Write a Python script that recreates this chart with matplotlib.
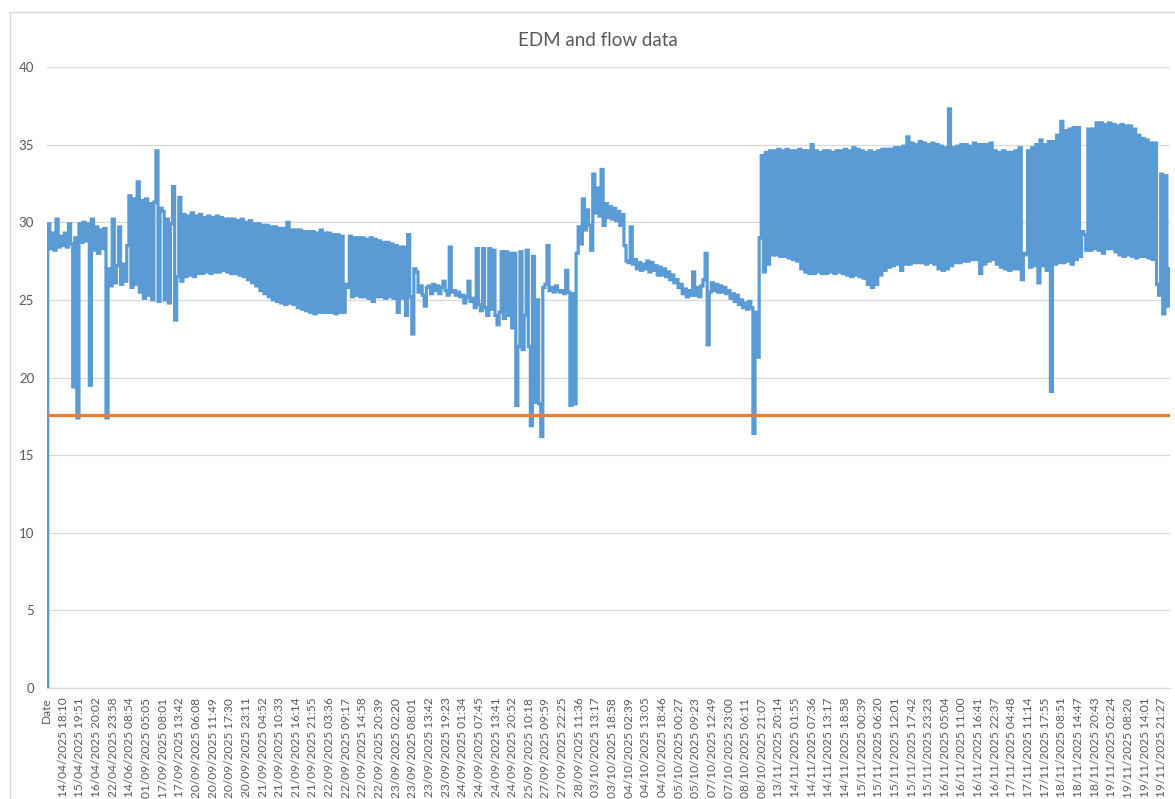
import matplotlib
matplotlib.use("Agg")
import matplotlib.pyplot as plt
from matplotlib.lines import Line2D
import numpy as np

title = "EDM and flow data"

tick_labels = [
    "Date", "14/04/2025 18:10", "15/04/2025 19:51", "16/04/2025 20:02", "22/04/2025 23:58",
    "14/06/2025 08:54", "01/09/2025 05:05", "17/09/2025 08:01", "17/09/2025 13:42",
    "20/09/2025 06:08", "20/09/2025 11:49", "20/09/2025 17:30", "20/09/2025 23:11",
    "21/09/2025 04:52", "21/09/2025 10:33", "21/09/2025 16:14", "21/09/2025 21:55",
    "22/09/2025 03:36", "22/09/2025 09:17", "22/09/2025 14:58", "22/09/2025 20:39",
    "23/09/2025 02:20", "23/09/2025 08:01", "23/09/2025 13:42", "23/09/2025 19:23",
    "24/09/2025 01:34", "24/09/2025 07:45", "24/09/2025 13:41", "24/09/2025 20:52",
    "25/09/2025 10:18", "27/09/2025 09:59", "27/09/2025 22:25", "28/09/2025 11:36",
    "03/10/2025 13:17", "03/10/2025 18:58", "04/10/2025 02:39", "04/10/2025 13:05",
    "04/10/2025 18:46", "05/10/2025 00:27", "05/10/2025 09:23", "07/10/2025 12:49",
    "07/10/2025 23:00", "08/10/2025 06:11", "08/10/2025 21:07", "13/11/2025 20:14",
    "14/11/2025 01:55", "14/11/2025 07:36", "14/11/2025 13:17", "14/11/2025 18:58",
    "15/11/2025 00:39", "15/11/2025 06:20", "15/11/2025 12:01", "15/11/2025 17:42",
    "15/11/2025 23:23", "16/11/2025 05:04", "16/11/2025 11:00", "16/11/2025 16:41",
    "16/11/2025 22:37", "17/11/2025 04:48", "17/11/2025 11:14", "17/11/2025 17:55",
    "18/11/2025 08:51", "18/11/2025 14:47", "18/11/2025 20:43", "19/11/2025 02:24",
    "19/11/2025 08:20", "19/11/2025 14:01", "19/11/2025 21:27",
]

# EDM readings (8 readings between consecutive labels)
edm_values = [
    0.0, 29.9, 28.3, 29.3, 28.2, 30.2, 28.4, 29.1,
    28.5, 29.3, 28.4, 29.9, 28.6, 19.4, 29.0, 17.4,
    29.9, 28.7, 30.0, 28.8, 29.9, 19.5, 30.2, 28.2,
    29.7, 28.0, 29.5, 28.3, 29.6, 17.4, 27.0, 25.9,
    30.2, 26.1, 27.2, 29.7, 26.0, 27.3, 26.2, 28.5,
    31.7, 25.8, 31.5, 26.0, 32.6, 25.5, 31.4, 25.1,
    31.5, 25.3, 31.2, 25.0, 31.3, 34.6, 24.9, 30.9,
    30.7, 25.0, 30.2, 24.8, 29.9, 32.3, 23.7, 26.5,
    31.6, 26.2, 30.5, 26.5, 30.4, 26.6, 30.6, 26.5,
    30.4, 26.7, 30.5, 26.7, 30.3, 26.8, 30.4, 26.7,
    30.3, 26.8, 30.4, 26.8, 30.3, 26.9, 30.2, 26.8,
    30.2, 26.7, 30.2, 26.7, 30.1, 26.6, 30.2, 26.5,
    30.0, 26.3, 30.1, 26.1, 29.9, 25.9, 29.9, 25.6,
    29.8, 25.4, 29.8, 25.2, 29.7, 25.0, 29.7, 24.9,
    29.6, 24.8, 29.6, 24.7, 30.0, 24.8, 29.5, 24.7,
    29.5, 24.5, 29.5, 24.4, 29.4, 24.3, 29.4, 24.2,
    29.4, 24.1, 29.3, 24.2, 29.5, 24.2, 29.3, 24.2,
    29.3, 24.2, 29.2, 24.1, 29.2, 24.2, 29.1, 24.2,
    26.0, 25.8, 29.1, 25.2, 29.0, 25.3, 29.0, 25.2,
    29.0, 25.2, 28.9, 25.1, 29.0, 24.9, 28.9, 25.2,
    28.8, 25.2, 28.7, 25.1, 28.7, 25.2, 28.6, 25.1,
    28.5, 24.2, 28.4, 25.1, 28.4, 24.0, 29.2, 25.2,
    22.8, 27.0, 26.8, 25.5, 25.9, 25.3, 24.6, 25.8,
    25.9, 25.4, 26.0, 25.6, 25.9, 25.4, 25.8, 26.2,
    25.6, 25.3, 28.4, 25.5, 25.6, 25.3, 25.5, 25.2,
    25.3, 24.8, 25.2, 26.2, 24.9, 25.1, 24.5, 28.3,
    24.7, 24.3, 28.3, 24.5, 24.0, 28.3, 24.4, 28.2,
    24.0, 23.4, 24.2, 28.1, 23.8, 28.1, 24.0, 28.0,
    23.2, 28.0, 18.2, 22.0, 28.1, 21.8, 24.0, 28.2,
    22.0, 16.9, 27.8, 18.4, 25.0, 18.3, 16.2, 25.8,
    26.0, 28.5, 25.6, 25.8, 25.5, 25.9, 25.6, 25.5,
    25.6, 25.4, 26.9, 25.5, 18.2, 25.4, 18.3, 28.0,
    29.7, 28.6, 31.5, 29.5, 30.8, 29.8, 28.2, 33.1,
    30.6, 32.2, 30.4, 33.4, 29.8, 31.2, 30.3, 31.0,
    30.2, 30.9, 30.1, 30.7, 29.8, 30.5, 28.5, 27.5,
    27.4, 29.7, 27.3, 27.6, 27.0, 27.4, 26.9, 27.3,
    27.0, 27.5, 26.8, 27.4, 26.9, 27.2, 26.6, 27.1,
    26.6, 27.0, 26.5, 26.8, 26.3, 26.6, 26.1, 26.3,
    25.8, 26.0, 25.4, 25.7, 25.2, 25.6, 25.3, 26.8,
    25.3, 25.8, 25.2, 25.9, 26.3, 28.0, 22.1, 25.5,
    26.1, 25.6, 26.0, 25.5, 25.9, 25.5, 25.8, 25.4,
    25.6, 25.1, 25.4, 24.9, 25.3, 24.7, 25.0, 24.5,
    24.8, 24.4, 24.9, 24.5, 16.4, 24.2, 21.3, 29.0,
    34.3, 26.8, 34.5, 27.3, 34.6, 27.9, 34.6, 27.9,
    34.7, 27.8, 34.6, 27.8, 34.7, 27.7, 34.6, 27.6,
    34.6, 27.5, 34.7, 27.0, 34.6, 26.8, 34.6, 26.7,
    35.0, 26.7, 34.6, 26.8, 34.5, 26.7, 34.6, 26.7,
    34.6, 26.8, 34.5, 26.7, 34.6, 26.8, 34.6, 26.7,
    34.7, 26.6, 34.6, 26.5, 34.8, 26.6, 34.7, 26.5,
    34.6, 26.4, 34.5, 26.0, 34.6, 25.8, 34.5, 26.0,
    34.6, 26.6, 34.7, 26.9, 34.7, 27.1, 34.7, 27.2,
    34.8, 27.3, 34.8, 26.9, 34.9, 27.3, 35.5, 27.3,
    35.1, 27.4, 35.0, 27.4, 35.2, 27.4, 35.1, 27.3,
    35.0, 27.4, 35.1, 27.3, 35.0, 27.0, 34.9, 26.9,
    34.8, 27.0, 37.3, 27.2, 34.8, 27.4, 34.9, 27.4,
    35.0, 27.5, 35.0, 27.5, 34.9, 27.6, 35.1, 27.6,
    35.0, 26.7, 35.0, 27.3, 35.0, 27.5, 35.1, 27.6,
    34.6, 27.3, 34.5, 27.1, 34.6, 27.0, 34.5, 26.9,
    34.5, 27.0, 34.6, 27.0, 34.8, 26.3, 28.0, 27.9,
    34.6, 27.1, 34.8, 27.2, 35.0, 26.1, 35.3, 27.2,
    35.0, 26.9, 35.2, 19.1, 35.2, 27.3, 35.6, 27.4,
    36.5, 27.4, 35.9, 27.5, 36.0, 27.3, 36.1, 27.6,
    36.1, 27.8, 29.4, 29.2, 28.2, 36.0, 28.2, 36.0,
    28.3, 36.4, 28.2, 36.4, 28.0, 36.3, 28.3, 36.4,
    28.3, 36.3, 28.1, 36.2, 27.9, 36.3, 27.8, 36.2,
    27.9, 36.2, 27.8, 36.0, 27.7, 35.6, 27.8, 35.4,
    27.8, 35.3, 27.7, 35.1, 27.6, 35.1, 26.0, 25.3,
    33.1, 24.1, 33.0, 24.6, 27.0,
]

threshold = 17.6
readings_per_label = 8
y_ticks = [0, 5, 10, 15, 20, 25, 30, 35, 40]

W, H = 1175, 799
fig = plt.figure(figsize=(W / 100, H / 100), dpi=100)
fig.patch.set_facecolor("white")

left, right, bottom, top = 46.7, 1170, 688, 67
ax = fig.add_axes([left / W, 1 - bottom / H, (right - left) / W, (bottom - top) / H])

x = np.arange(len(edm_values))
ax.plot(x, edm_values, color="#5B9BD5", lw=2.3, drawstyle="steps-mid",
        solid_joinstyle="miter", zorder=3)
ax.plot(x, [threshold] * len(x), color="#ED7D31", lw=2.3, zorder=4)

ax.set_xlim(0, len(x) - 1)
ax.set_ylim(0, 40)
ax.set_yticks(y_ticks)
ax.set_yticklabels([str(t) for t in y_ticks])
ax.set_xticks(x[::readings_per_label][:len(tick_labels)])
ax.set_xticklabels(tick_labels, rotation=90, ha="center", va="top")

ax.set_axisbelow(True)
ax.yaxis.grid(True, color="#D9D9D9", lw=0.9)
ax.xaxis.grid(False)
for s in ["top", "right", "left"]:
    ax.spines[s].set_visible(False)
ax.spines["bottom"].set_color("#D9D9D9")
ax.spines["bottom"].set_linewidth(0.9)
ax.tick_params(axis="both", length=0, colors="#595959")
ax.tick_params(axis="y", pad=9, labelsize=9.5)
ax.tick_params(axis="x", pad=7, labelsize=8.6)
for lab in ax.get_xticklabels() + ax.get_yticklabels():
    lab.set_fontfamily("Lato")

fig.text(598 / W, 1 - 40 / H, title, ha="center", va="center",
         fontsize=13.5, color="#595959", fontfamily="Lato")

# chart area border (top and left edges visible)
fig.add_artist(Line2D([9.5 / W, 9.5 / W], [-0.01, 1 - 11.5 / H],
                      transform=fig.transFigure, color="#D9D9D9", lw=1))
fig.add_artist(Line2D([9.5 / W, 1.01], [1 - 11.5 / H, 1 - 11.5 / H],
                      transform=fig.transFigure, color="#D9D9D9", lw=1))

fig.savefig("out.png", dpi=100, facecolor="white")
